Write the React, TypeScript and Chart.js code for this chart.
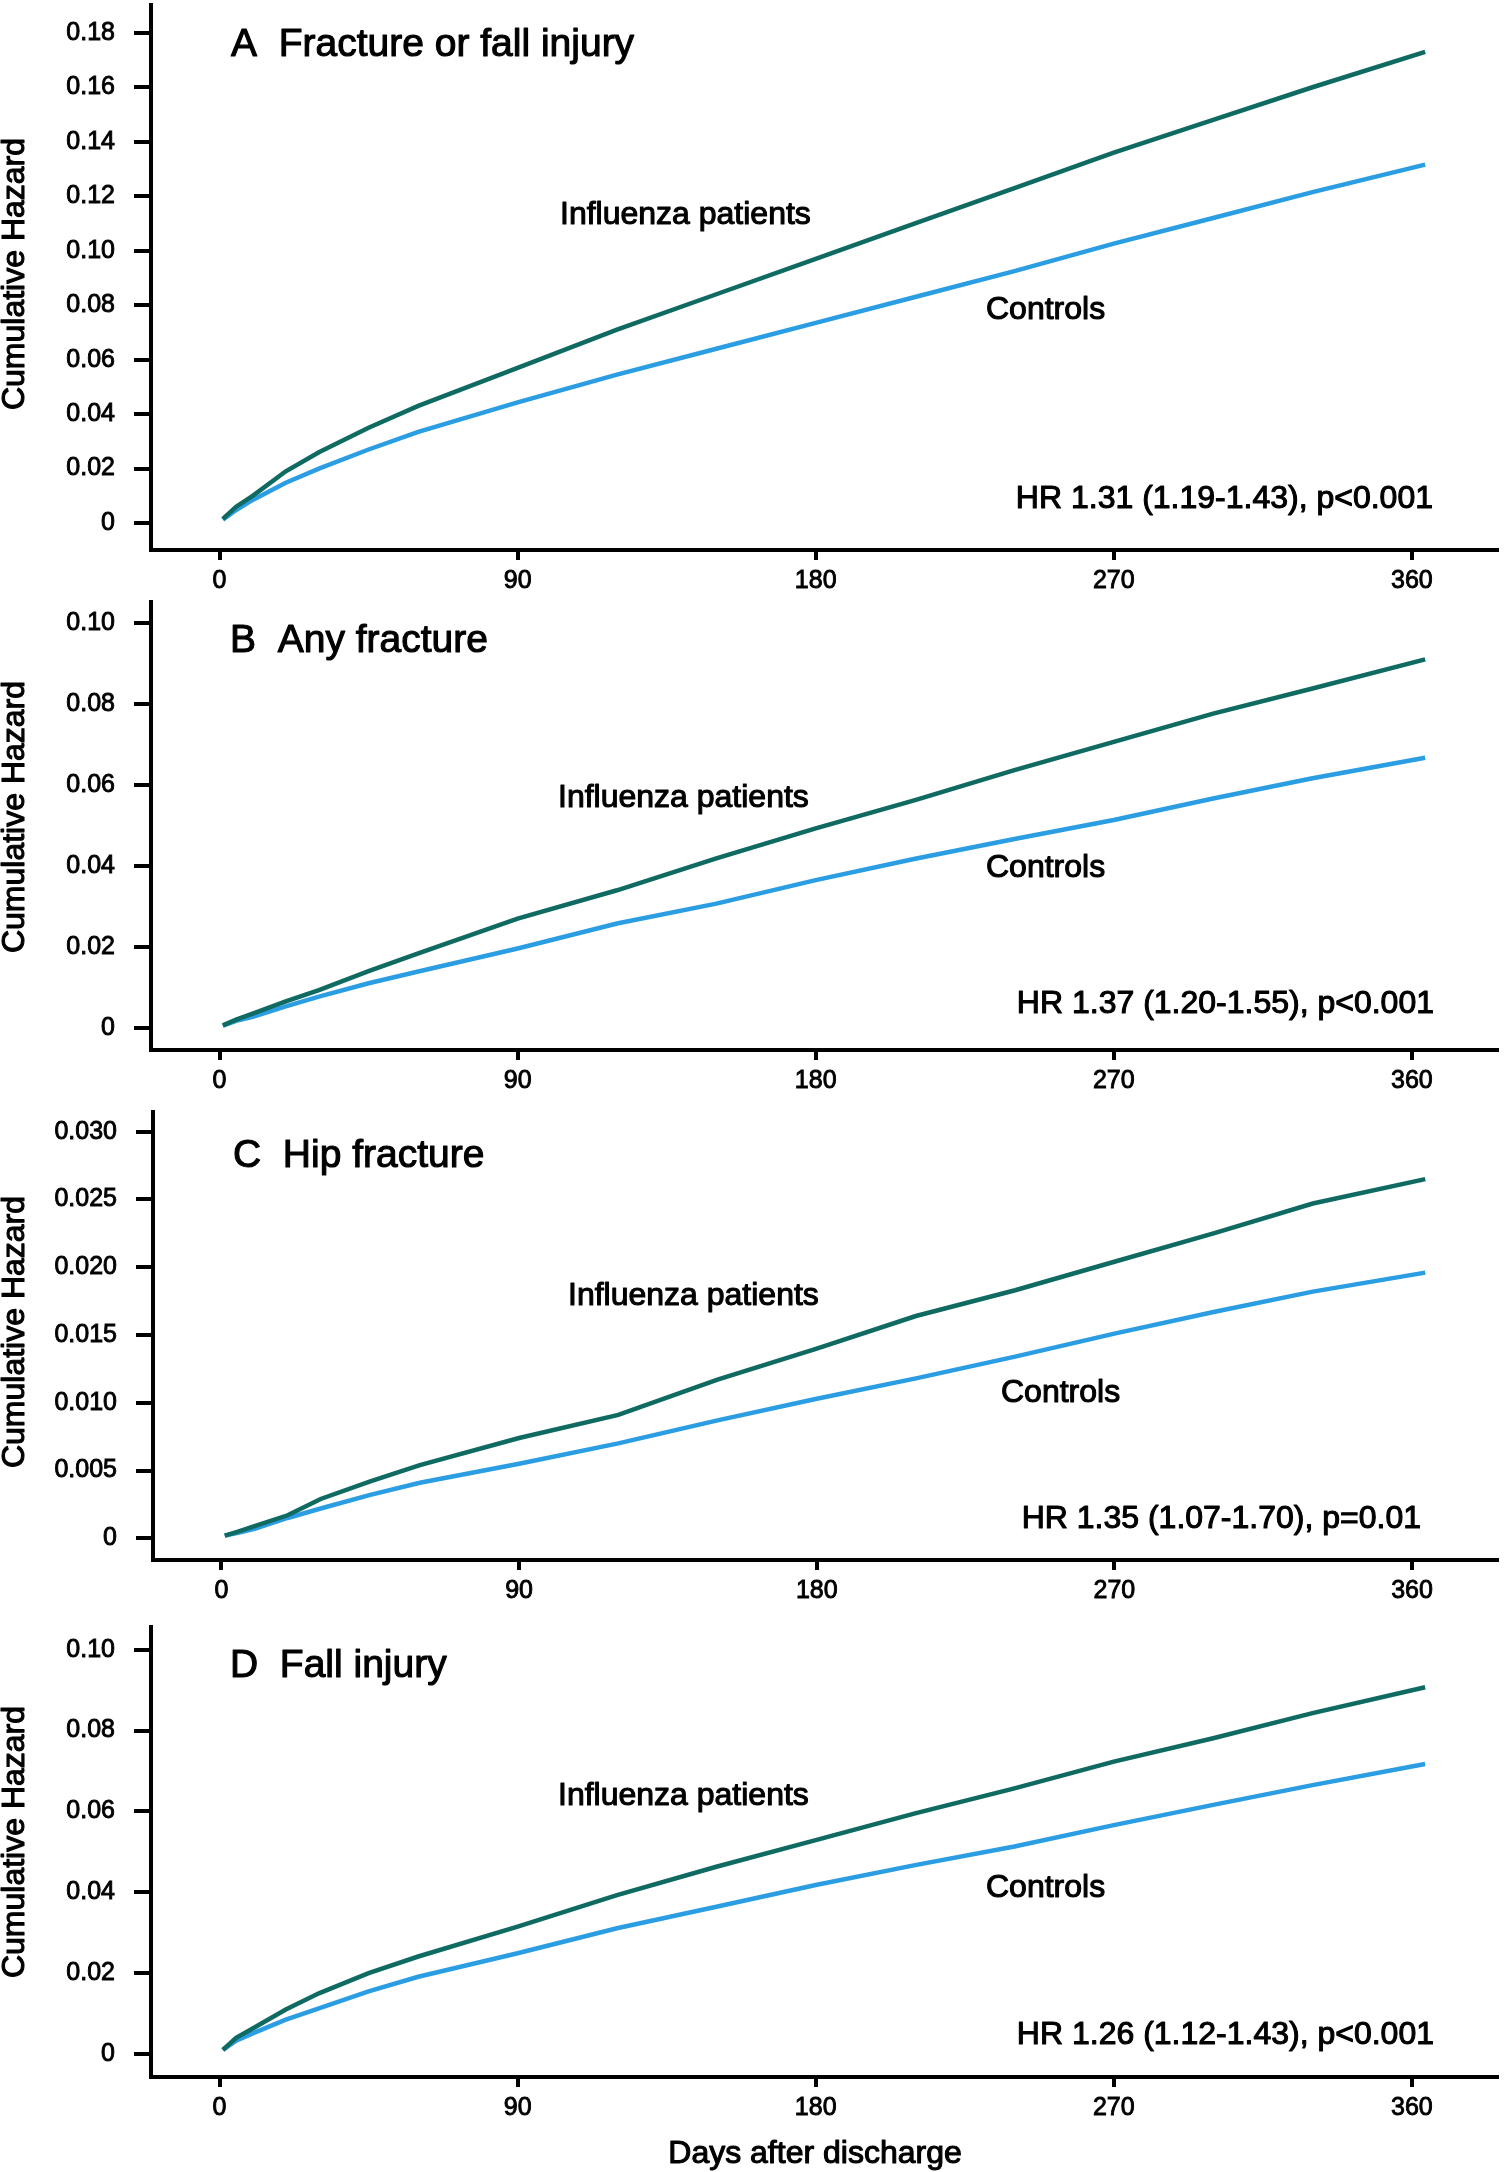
import { useEffect, useRef } from "react";
import { Chart, registerables } from "chart.js";

Chart.register(...registerables);

const FONT = "'Liberation Sans', Arial, Helvetica, sans-serif";

// days after discharge where the curves were read
const days = [1, 5, 10, 20, 30, 45, 60, 90, 120, 150, 180, 210, 240, 270, 300, 330, 364];
const xTicks = [0, 90, 180, 270, 360];

// A: fracture or fall injury
const fractureFallFlu = [0.0015, 0.006, 0.01, 0.019, 0.026, 0.035, 0.043, 0.057, 0.071, 0.084, 0.097, 0.11, 0.123, 0.136, 0.148, 0.16, 0.173];
const fractureFallCtrl = [0.0012, 0.0048, 0.0085, 0.0148, 0.02, 0.027, 0.0335, 0.0443, 0.0545, 0.064, 0.0735, 0.083, 0.0925, 0.1026, 0.112, 0.1215, 0.1316];

// B: any fracture
const anyFractureFlu = [0.0006, 0.002, 0.0035, 0.0065, 0.0093, 0.014, 0.0184, 0.027, 0.034, 0.0419, 0.0493, 0.0563, 0.0637, 0.0707, 0.0777, 0.0839, 0.0911];
const anyFractureCtrl = [0.0005, 0.0017, 0.0027, 0.0053, 0.0077, 0.011, 0.0139, 0.0196, 0.0258, 0.0307, 0.0365, 0.0418, 0.0467, 0.0514, 0.0567, 0.0617, 0.0668];

// C: hip fracture
const hipFractureFlu = [0.0002, 0.0005, 0.0009, 0.0017, 0.0029, 0.0042, 0.0054, 0.0074, 0.0091, 0.0117, 0.014, 0.0164, 0.0183, 0.0204, 0.0225, 0.0247, 0.0265];
const hipFractureCtrl = [0.0002, 0.0004, 0.0007, 0.0015, 0.0022, 0.0032, 0.0041, 0.0055, 0.007, 0.0087, 0.0103, 0.0118, 0.0134, 0.0151, 0.0167, 0.0182, 0.0196];

// D: fall injury
const fallInjuryFlu = [0.001, 0.004, 0.0063, 0.011, 0.015, 0.02, 0.0241, 0.0315, 0.0393, 0.0463, 0.0529, 0.0595, 0.0657, 0.0723, 0.0781, 0.0843, 0.0907];
const fallInjuryCtrl = [0.001, 0.0033, 0.0051, 0.0085, 0.0113, 0.0155, 0.0191, 0.0249, 0.0311, 0.0364, 0.0418, 0.0467, 0.0513, 0.0566, 0.0616, 0.0665, 0.0717];

const yTicksA = [0, 0.02, 0.04, 0.06, 0.08, 0.1, 0.12, 0.14, 0.16, 0.18];
const yTicksBD = [0, 0.02, 0.04, 0.06, 0.08, 0.1];
const yTicksC = [0, 0.005, 0.01, 0.015, 0.02, 0.025, 0.03];

const FLU_COLOR = "#0f6a61";
const CTRL_COLOR = "#2b9de3";

type Panel = {
  title: string;
  hr: string;
  flu: number[];
  ctrl: number[];
  yTicks: number[];
  decimals: number;
  yMin: number;
  yMax: number;
  top: number;
  height: number;
  plotTop: number;
  plotBottom: number;
  axisLeft: number;
  // label anchors relative to the chart area: [x, centre y]
  pos: { title: number[]; flu: number[]; ctrl: number[]; hr: number[]; yTitle: number };
  xTitle?: boolean;
};

const panels: Panel[] = [
  {
    title: "A  Fracture or fall injury",
    hr: "HR 1.31 (1.19-1.43), p<0.001",
    flu: fractureFallFlu,
    ctrl: fractureFallCtrl,
    yTicks: yTicksA,
    decimals: 2,
    yMin: -0.0099,
    yMax: 0.1902,
    top: 0,
    height: 600,
    plotTop: 5,
    plotBottom: 550,
    axisLeft: 151,
    pos: { title: [80, 40], flu: [409, 210], ctrl: [835, 305], hr: [1282, 494], yTitle: 269 },
  },
  {
    title: "B  Any fracture",
    hr: "HR 1.37 (1.20-1.55), p<0.001",
    flu: anyFractureFlu,
    ctrl: anyFractureCtrl,
    yTicks: yTicksBD,
    decimals: 2,
    yMin: -0.0055,
    yMax: 0.1053,
    top: 600,
    height: 510,
    plotTop: 2,
    plotBottom: 450,
    axisLeft: 151,
    pos: { title: [79, 39], flu: [407, 196], ctrl: [835, 266], hr: [1283, 402], yTitle: 215 },
  },
  {
    title: "C  Hip fracture",
    hr: "HR 1.35 (1.07-1.70), p=0.01",
    flu: hipFractureFlu,
    ctrl: hipFractureCtrl,
    yTicks: yTicksC,
    decimals: 3,
    yMin: -0.0016,
    yMax: 0.03145,
    top: 1110,
    height: 505,
    plotTop: 2,
    plotBottom: 450,
    axisLeft: 153,
    pos: { title: [80, 44], flu: [415, 184], ctrl: [848, 281], hr: [1268, 407], yTitle: 220 },
  },
  {
    title: "D  Fall injury",
    hr: "HR 1.26 (1.12-1.43), p<0.001",
    flu: fallInjuryFlu,
    ctrl: fallInjuryCtrl,
    yTicks: yTicksBD,
    decimals: 2,
    yMin: -0.0057,
    yMax: 0.1056,
    top: 1615,
    height: 557,
    plotTop: 12,
    plotBottom: 462,
    axisLeft: 151,
    pos: { title: [79, 39], flu: [407, 169], ctrl: [835, 261], hr: [1283, 408], yTitle: 215 },
    xTitle: true,
  },
];

const WIDTH = 1504;
const PLOT_RIGHT = 1497;

// the scanned figure has heavy type, a thin stroke thickens the glyphs
const putText = (ctx: CanvasRenderingContext2D, text: string, x: number, y: number) => {
  ctx.fillText(text, x, y);
  ctx.strokeText(text, x, y);
};

const HazardPanel: React.FC<{ panel: Panel }> = ({ panel }) => {
  const canvasRef = useRef<HTMLCanvasElement | null>(null);

  useEffect(() => {
    if (!canvasRef.current) return;
    const p = panel;

    // panel texts drawn on top of the chart
    const labels = {
      id: "panelLabels",
      afterDraw(chart: Chart) {
        const { ctx, chartArea } = chart;
        const { left, top, bottom } = chartArea;
        ctx.save();
        ctx.fillStyle = "#000";
        ctx.strokeStyle = "#000";
        ctx.lineWidth = 1.1;
        ctx.lineJoin = "round";
        ctx.textBaseline = "middle";

        ctx.font = `39px ${FONT}`;
        ctx.textAlign = "left";
        putText(ctx, p.title, left + p.pos.title[0], top + p.pos.title[1]);

        ctx.font = `32px ${FONT}`;
        putText(ctx, "Influenza patients", left + p.pos.flu[0], top + p.pos.flu[1]);
        putText(ctx, "Controls", left + p.pos.ctrl[0], top + p.pos.ctrl[1]);
        ctx.textAlign = "right";
        putText(ctx, p.hr, left + p.pos.hr[0], top + p.pos.hr[1]);

        // y axis title, partly cut by the page edge as in the original
        ctx.save();
        ctx.translate(24, top + p.pos.yTitle);
        ctx.rotate(-Math.PI / 2);
        ctx.textAlign = "center";
        ctx.textBaseline = "alphabetic";
        putText(ctx, "Cumulative Hazard", 0, 0);
        ctx.restore();

        if (p.xTitle) {
          ctx.textAlign = "center";
          ctx.textBaseline = "alphabetic";
          putText(ctx, "Days after discharge", 815, bottom + 86);
        }
        ctx.restore();
      },
    };

    const chart = new Chart(canvasRef.current, {
      type: "line",
      data: {
        datasets: [
          {
            label: "Influenza patients",
            data: days.map((d, i) => ({ x: d, y: p.flu[i] })),
            borderColor: FLU_COLOR,
            borderWidth: 4.5,
            pointRadius: 0,
            tension: 0,
            order: 0,
          },
          {
            label: "Controls",
            data: days.map((d, i) => ({ x: d, y: p.ctrl[i] })),
            borderColor: CTRL_COLOR,
            borderWidth: 4.5,
            pointRadius: 0,
            tension: 0,
            order: 1,
          },
        ],
      },
      options: {
        responsive: false,
        animation: false,
        events: [],
        layout: {
          padding: { top: p.plotTop, right: WIDTH - PLOT_RIGHT, bottom: 0, left: 0 },
        },
        plugins: {
          legend: { display: false },
          tooltip: { enabled: false },
        },
        scales: {
          x: {
            type: "linear",
            min: -20.7,
            max: 385.7,
            border: { display: true, color: "#000", width: 4 },
            grid: { drawOnChartArea: false, drawTicks: true, tickLength: 10, color: "#000", lineWidth: 4 },
            ticks: {
              color: "#000",
              textStrokeColor: "#000",
              textStrokeWidth: 0.9,
              font: { size: 25, family: FONT },
              padding: 6,
              maxRotation: 0,
              callback: v => String(v),
            },
            afterBuildTicks: scale => {
              scale.ticks = xTicks.map(v => ({ value: v }));
            },
            afterFit: scale => {
              scale.height = p.height - p.plotBottom;
              scale.paddingLeft = 0;
              scale.paddingRight = 0;
            },
          },
          y: {
            type: "linear",
            min: p.yMin,
            max: p.yMax,
            border: { display: true, color: "#000", width: 4 },
            grid: { drawOnChartArea: false, drawTicks: true, tickLength: 17, color: "#000", lineWidth: 4 },
            ticks: {
              color: "#000",
              textStrokeColor: "#000",
              textStrokeWidth: 0.9,
              font: { size: 25, family: FONT },
              padding: 19,
              callback: v => (Number(v) === 0 ? "0" : Number(v).toFixed(p.decimals)),
            },
            afterBuildTicks: scale => {
              scale.ticks = p.yTicks.map(v => ({ value: v }));
            },
            afterFit: scale => {
              scale.width = p.axisLeft;
              scale.paddingTop = 0;
              scale.paddingBottom = 0;
            },
          },
        },
      },
      plugins: [labels],
    });

    return () => {
      chart.destroy();
    };
  }, [panel]);

  return (
    <canvas
      ref={canvasRef}
      width={WIDTH}
      height={panel.height}
      style={{ position: "absolute", left: 0, top: panel.top, width: WIDTH, height: panel.height }}
    />
  );
};

export default function App() {
  return (
    <div style={{ position: "absolute", left: 0, top: 0, width: WIDTH, height: 2172, background: "#fff" }}>
      {panels.map(p => (
        <HazardPanel key={p.title} panel={p} />
      ))}
    </div>
  );
}
